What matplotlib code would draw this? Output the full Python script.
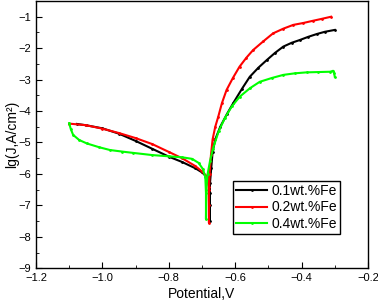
import matplotlib
matplotlib.use("Agg")
import matplotlib.pyplot as plt
from matplotlib.ticker import MultipleLocator

plt.rcParams["font.family"] = ["Liberation Sans", "DejaVu Sans"]

labels = ["0.1wt.%Fe", "0.2wt.%Fe", "0.4wt.%Fe"]
colors = ["black", "red", "#00ff00"]

# 0.1wt.%Fe
v1 = [-1.077, -1.05, -1.0, -0.95, -0.90, -0.85, -0.80, -0.76, -0.72, -0.70, -0.685,
      -0.678, -0.676, -0.676, -0.676,
      -0.676, -0.672, -0.668, -0.66, -0.645, -0.625, -0.606, -0.58, -0.556, -0.53,
      -0.505, -0.48, -0.455, -0.43, -0.405, -0.38, -0.354, -0.33, -0.30]
lg1 = [-4.41, -4.45, -4.55, -4.72, -4.95, -5.20, -5.45, -5.62, -5.82, -5.95, -6.10,
       -6.30, -6.60, -7.00, -7.50,
       -6.30, -5.80, -5.30, -4.90, -4.50, -4.10, -3.75, -3.30, -2.91, -2.62,
       -2.38, -2.15, -1.95, -1.83, -1.74, -1.64, -1.55, -1.48, -1.42]

# 0.2wt.%Fe
v2 = [-1.10, -1.05, -1.0, -0.95, -0.90, -0.85, -0.80, -0.76, -0.72, -0.70, -0.685,
      -0.680, -0.679, -0.679,
      -0.679, -0.677, -0.673, -0.668, -0.66, -0.651, -0.64, -0.626, -0.607, -0.587,
      -0.566, -0.546, -0.515, -0.486, -0.455, -0.425, -0.395, -0.366, -0.34, -0.311]
lg2 = [-4.40, -4.45, -4.56, -4.70, -4.86, -5.05, -5.30, -5.50, -5.75, -5.92, -6.08,
       -6.40, -7.00, -7.55,
       -6.50, -6.00, -5.40, -4.90, -4.50, -4.18, -3.75, -3.33, -2.95, -2.59,
       -2.30, -2.06, -1.78, -1.53, -1.38, -1.26, -1.20, -1.13, -1.07, -1.00]

# 0.4wt.%Fe
v3 = [-1.10, -1.095, -1.088, -1.07, -1.047, -1.01, -0.977, -0.94, -0.908, -0.85,
      -0.80, -0.76, -0.73, -0.71, -0.697, -0.690, -0.688, -0.688,
      -0.687, -0.683, -0.676, -0.667, -0.65, -0.631, -0.61, -0.586, -0.555, -0.526,
      -0.49, -0.455, -0.42, -0.385, -0.35, -0.314, -0.305, -0.302, -0.30]
lg3 = [-4.39, -4.58, -4.76, -4.92, -5.03, -5.15, -5.24, -5.29, -5.33, -5.40,
       -5.44, -5.47, -5.52, -5.65, -5.85, -6.10, -6.60, -7.44,
       -6.50, -6.00, -5.60, -5.20, -4.65, -4.22, -3.85, -3.54, -3.27, -3.07,
       -2.95, -2.85, -2.80, -2.77, -2.76, -2.75, -2.72, -2.80, -2.91]

fig = plt.figure(figsize=(3.78, 3.08), dpi=100)
ax = fig.add_axes([0.0952, 0.129, 0.8783, 0.8678])

for v, lg, c, lab in zip([v1, v2, v3], [lg1, lg2, lg3], colors, labels):
    ax.plot(v, lg, color=c, lw=1.5, marker=".", markersize=2, label=lab)

ax.set_xlim(-1.2, -0.2)
ax.set_ylim(-9, -0.5)
ax.xaxis.set_major_locator(MultipleLocator(0.2))
ax.xaxis.set_minor_locator(MultipleLocator(0.1))
ax.yaxis.set_major_locator(MultipleLocator(1))
ax.yaxis.set_minor_locator(MultipleLocator(0.5))
ax.tick_params(which="both", direction="in", top=False, right=False, labelsize=8)
ax.tick_params(which="major", length=4)
ax.tick_params(which="minor", length=2)
for s in ax.spines.values():
    s.set_linewidth(1.0)

ax.set_xlabel("Potential,V", fontsize=10, labelpad=3)
ax.set_ylabel("lg(J,A/cm\u00b2)", fontsize=10)
ax.yaxis.set_label_coords(-0.05, 0.5)

leg = ax.legend(loc="upper left", bbox_to_anchor=(0.593, 0.327), fontsize=10,
                fancybox=False, edgecolor="black", framealpha=1,
                handlelength=2.2, handletextpad=0.3, borderpad=0.25,
                labelspacing=0.15, borderaxespad=0)
leg.get_frame().set_linewidth(1.0)

fig.savefig("out.png", dpi=100)
